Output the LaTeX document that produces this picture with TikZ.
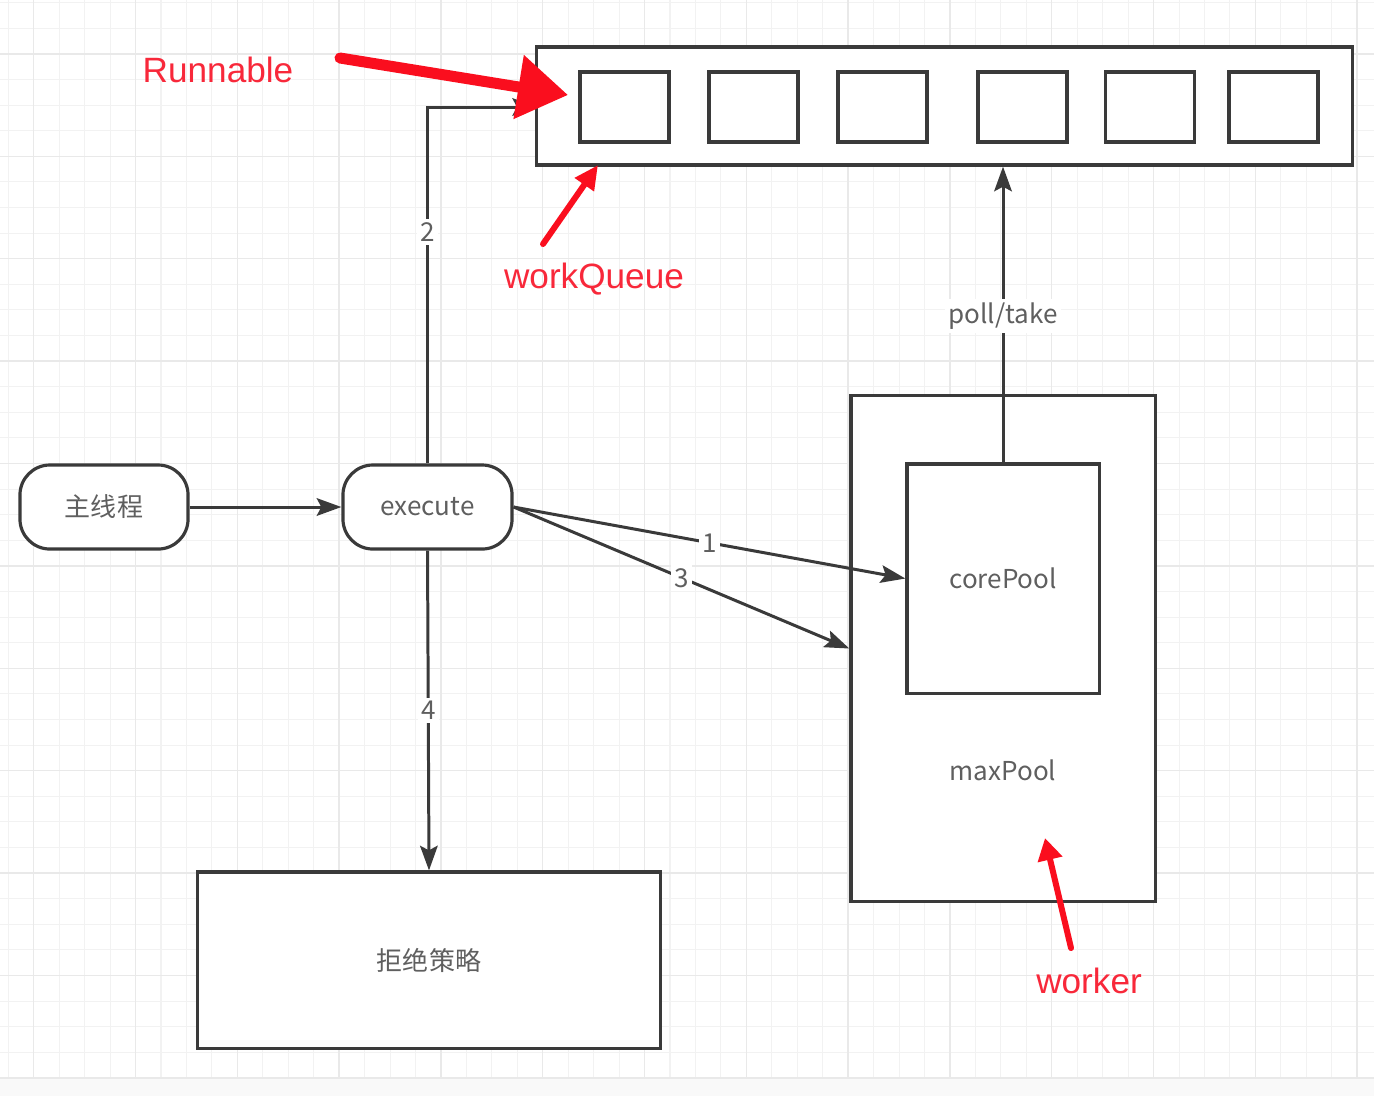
\documentclass[tikz,border=0pt]{standalone}
\usepackage{fontspec}
\newfontfamily\cjk{Noto Sans CJK SC}
\newfontfamily\notefont{Liberation Sans}
\usetikzlibrary{arrows.meta}
\definecolor{linegray}{RGB}{58,58,58}
\definecolor{textgray}{RGB}{95,95,95}
\definecolor{notered}{RGB}{250,14,30}
\definecolor{labelred}{RGB}{248,40,58}
\definecolor{gridminor}{RGB}{242,242,242}
\definecolor{gridmajor}{RGB}{233,233,233}
\definecolor{footgray}{RGB}{249,249,249}
\tikzset{
  box/.style={draw=linegray, fill=white, line width=0.9pt, inner sep=0pt,
    font=\cjk\fontsize{7.4}{9}\selectfont, text=textgray},
  pill/.style={box, rounded corners=0.3cm},
  slot/.style={box, minimum width=0.89cm, minimum height=0.7cm},
  plain/.style={inner sep=0pt, font=\cjk\fontsize{7.4}{9}\selectfont, text=textgray},
  num/.style={fill=white, inner sep=1pt, font=\cjk\fontsize{7.4}{9}\selectfont, text=textgray},
  flow/.style={draw=linegray, line width=0.85pt, ->},
  tag/.style={inner sep=0pt, anchor=base, font=\notefont\fontsize{10}{12}\selectfont, text=labelred},
  pointer/.style={draw=notered, line cap=round},
}
\begin{document}
\begin{tikzpicture}[>={Stealth[length=7pt,width=5pt,inset=1.3pt]}, x=0.01cm, y=-0.01cm]
    \useasboundingbox (0,0) rectangle (1374,1096);
    \fill[white] (0,0) rectangle (1374,1077);
    \fill[footgray] (0,1077) rectangle (1374,1096);
    % grid
    \foreach \gx in {0,...,53} \draw[gridminor, line width=0.3pt] ({8.3+25.45*\gx},0)--({8.3+25.45*\gx},1077);
    \foreach \gy in {0,...,41} \draw[gridminor, line width=0.3pt] (0,{2.7+25.6*\gy})--(1374,{2.7+25.6*\gy});
    \foreach \gx in {0,...,13} \draw[gridmajor, line width=0.4pt] ({33.75+101.8*\gx},0)--({33.75+101.8*\gx},1077);
    \foreach \gy in {0,...,10} \draw[gridmajor, line width=0.4pt] (0,{53.9+102.4*\gy})--(1374,{53.9+102.4*\gy});

    % queue
    \node[box, minimum width=8.15cm, minimum height=1.18cm] (queue) at (944.5,106) {};
    \node[slot] (q1) at (624.5,107) {};
    \node[slot] (q2) at (753.5,107) {};
    \node[slot] (q3) at (882.5,107) {};
    \node[slot] (q4) at (1022.5,107) {};
    \node[slot] (q5) at (1150,107) {};
    \node[slot] (q6) at (1273.5,107) {};

    \node[pill, minimum width=1.68cm, minimum height=0.84cm] (main) at (104,507) {主线程};
    \node[pill, minimum width=1.69cm, minimum height=0.84cm] (exec) at (427.5,507) {execute};
    \node[box, minimum width=3.04cm, minimum height=5.05cm] (maxp) at (1003,648.5) {};
    \node[box, minimum width=1.92cm, minimum height=2.29cm] (core) at (1003,578.5) {corePool};
    \node[plain] (maxtxt) at (1003,770) {maxPool};
    \node[box, minimum width=4.62cm, minimum height=1.76cm] (reject) at (429,960) {拒绝策略};

    \coordinate (qin) at (537,107);
    \draw[flow] (main) -- (exec);
    \draw[flow] (exec.north) |- node[num, pos=0.324] {2} (qin);
    \draw[flow] (exec.east) -- node[num] {1} (core.west);
    \draw[flow] (exec.east) -- node[num] {3} (maxp.west);
    \draw[flow] (exec.south) -- node[num] {4} (reject.north);
    \draw[flow] (core.north) -- node[num, pos=0.495] {poll/take} (core.north |- queue.south);

    % red notes
    \node[tag] (runlbl) at (218,82) {Runnable};
    \node[tag] (wqlbl) at (594,288) {workQueue};
    \node[tag] (wklbl) at (1089,993) {worker};
    \coordinate (runtail) at (340,58);
    \coordinate (runtip) at (568,95);
    \coordinate (wqtail) at (543,244);
    \coordinate (wqtip) at (598,165);
    \coordinate (wktail) at (1071,948);
    \coordinate (wktip) at (1045,838);
    \draw[pointer, line width=0.11cm, -{Triangle[length=0.5cm,width=0.62cm]}] (runtail) -- (runtip);
    \draw[pointer, line width=0.06cm, -{Triangle[length=0.24cm,width=0.22cm]}] (wqtail) -- (wqtip);
    \draw[pointer, line width=0.06cm, -{Triangle[length=0.22cm,width=0.24cm]}] (wktail) -- (wktip);
\end{tikzpicture}
\end{document}
